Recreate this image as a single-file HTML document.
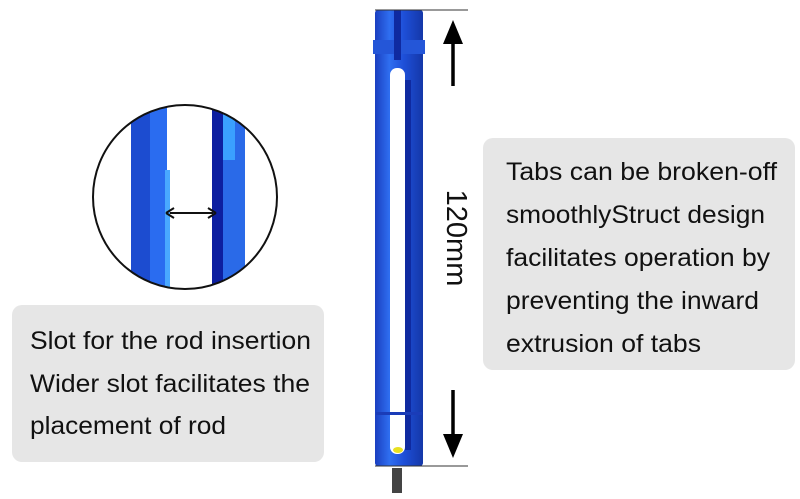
<!DOCTYPE html>
<html><head><meta charset="utf-8"><style>
html,body{margin:0;padding:0;background:#fff;}
svg{display:block}
text{font-family:"Liberation Sans",Arial,sans-serif;fill:#111;}
</style></head><body>
<svg width="800" height="499" viewBox="0 0 800 499" xmlns="http://www.w3.org/2000/svg">
<defs>
<linearGradient id="rod" x1="0" x2="1" y1="0" y2="0">
<stop offset="0" stop-color="#1a3fc0"/><stop offset="0.3" stop-color="#2f6ef0"/><stop offset="0.6" stop-color="#1e4fd8"/><stop offset="1" stop-color="#1437a8"/>
</linearGradient>
<clipPath id="cc"><circle cx="185" cy="197" r="92"/></clipPath>
</defs>
<!-- boxes -->
<rect x="12" y="305" width="312" height="157" rx="10" fill="#e6e6e6"/>
<text x="30" y="349" font-size="25" textLength="281" lengthAdjust="spacingAndGlyphs">Slot for the rod insertion</text>
<text x="30" y="392" font-size="25" textLength="280" lengthAdjust="spacingAndGlyphs">Wider slot facilitates the</text>
<text x="30" y="434" font-size="25" textLength="196" lengthAdjust="spacingAndGlyphs">placement of rod</text>
<rect x="483" y="138" width="312" height="232" rx="10" fill="#e6e6e6"/>
<text x="506" y="180" font-size="25" textLength="271" lengthAdjust="spacingAndGlyphs">Tabs can be broken-off</text>
<text x="506" y="223" font-size="25" textLength="259" lengthAdjust="spacingAndGlyphs">smoothlyStruct design</text>
<text x="506" y="266" font-size="25" textLength="264" lengthAdjust="spacingAndGlyphs">facilitates operation by</text>
<text x="506" y="309" font-size="25" textLength="253" lengthAdjust="spacingAndGlyphs">preventing the inward</text>
<text x="506" y="352" font-size="25" textLength="195" lengthAdjust="spacingAndGlyphs">extrusion of tabs</text>
<!-- circle detail -->
<g clip-path="url(#cc)">
<rect x="92" y="105" width="186" height="186" fill="#fff"/>
<rect x="131" y="100" width="36" height="200" fill="#1c4cd0"/>
<rect x="150" y="100" width="17" height="200" fill="#2a6cf0"/>
<rect x="165" y="170" width="5" height="130" fill="#49a8ff"/>
<rect x="212" y="100" width="11" height="200" fill="#0d1fa0"/>
<rect x="223" y="100" width="22" height="200" fill="#2a6ae8"/>
<rect x="223" y="100" width="12" height="60" fill="#3aa0ff"/>
</g>
<circle cx="185" cy="197" r="92" fill="none" stroke="#111" stroke-width="2"/>
<line x1="170" y1="213" x2="213" y2="213" stroke="#111" stroke-width="2"/>
<path d="M166 213 l8 -5 M166 213 l8 5 M216 213 l-8 -5 M216 213 l-8 5" stroke="#111" stroke-width="2"/>
<!-- rod -->
<rect x="392" y="468" width="10" height="25" fill="#444"/>
<rect x="375" y="10" width="48" height="456" rx="3" fill="url(#rod)"/>
<rect x="373" y="40" width="52" height="14" fill="#2456d8"/>
<rect x="390" y="68" width="15" height="386" rx="7" fill="#fff"/>
<rect x="394" y="10" width="7" height="50" fill="#0f2aa0"/>
<rect x="405" y="80" width="6" height="370" fill="#0f2aa0"/>
<rect x="376" y="412" width="46" height="3" fill="#1a3cb8"/>
<ellipse cx="398" cy="450" rx="5" ry="3" fill="#e8e020"/>
<!-- dimension -->
<line x1="375" y1="10" x2="468" y2="10" stroke="#333" stroke-width="1"/>
<line x1="375" y1="466" x2="468" y2="466" stroke="#333" stroke-width="1"/>
<line x1="453" y1="40" x2="453" y2="86" stroke="#000" stroke-width="3.5"/>
<polygon points="453,20 443,44 463,44" fill="#000"/>
<line x1="453" y1="390" x2="453" y2="436" stroke="#000" stroke-width="3.5"/>
<polygon points="453,458 443,434 463,434" fill="#000"/>
<text transform="translate(447,238) rotate(90)" text-anchor="middle" font-size="29">120mm</text>
</svg>
</body></html>
